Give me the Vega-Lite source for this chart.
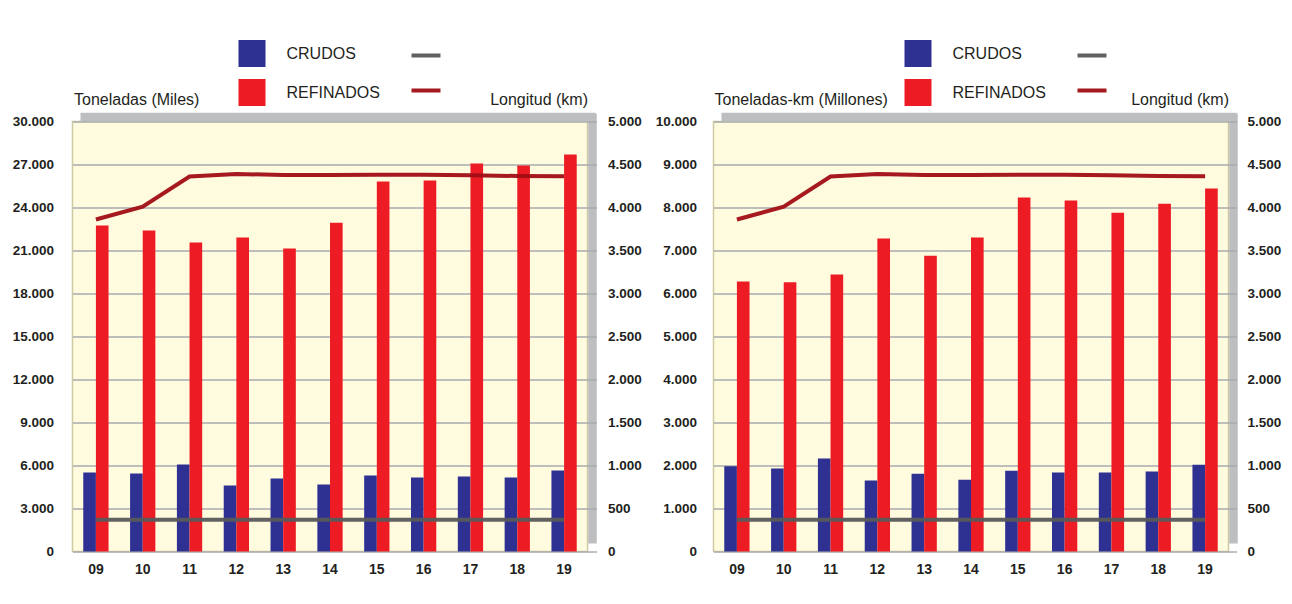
{
  "$schema": "https://vega.github.io/schema/vega-lite/v6.json",
  "background": "white",
  "padding": {"left": 10.5, "top": 37.5, "right": 5, "bottom": 5},
  "spacing": 11,
  "datasets": {
    "ton": [
      {"anio": "09", "serie": "CRUDOS", "valor": 5510}, {"anio": "09", "serie": "REFINADOS", "valor": 22740},
      {"anio": "10", "serie": "CRUDOS", "valor": 5440}, {"anio": "10", "serie": "REFINADOS", "valor": 22400},
      {"anio": "11", "serie": "CRUDOS", "valor": 6070}, {"anio": "11", "serie": "REFINADOS", "valor": 21560},
      {"anio": "12", "serie": "CRUDOS", "valor": 4600}, {"anio": "12", "serie": "REFINADOS", "valor": 21910},
      {"anio": "13", "serie": "CRUDOS", "valor": 5090}, {"anio": "13", "serie": "REFINADOS", "valor": 21140},
      {"anio": "14", "serie": "CRUDOS", "valor": 4670}, {"anio": "14", "serie": "REFINADOS", "valor": 22930},
      {"anio": "15", "serie": "CRUDOS", "valor": 5300}, {"anio": "15", "serie": "REFINADOS", "valor": 25810},
      {"anio": "16", "serie": "CRUDOS", "valor": 5160}, {"anio": "16", "serie": "REFINADOS", "valor": 25880},
      {"anio": "17", "serie": "CRUDOS", "valor": 5230}, {"anio": "17", "serie": "REFINADOS", "valor": 27070},
      {"anio": "18", "serie": "CRUDOS", "valor": 5160}, {"anio": "18", "serie": "REFINADOS", "valor": 26930},
      {"anio": "19", "serie": "CRUDOS", "valor": 5650}, {"anio": "19", "serie": "REFINADOS", "valor": 27700}
    ],
    "tkm": [
      {"anio": "09", "serie": "CRUDOS", "valor": 1980}, {"anio": "09", "serie": "REFINADOS", "valor": 6280},
      {"anio": "10", "serie": "CRUDOS", "valor": 1930}, {"anio": "10", "serie": "REFINADOS", "valor": 6260},
      {"anio": "11", "serie": "CRUDOS", "valor": 2160}, {"anio": "11", "serie": "REFINADOS", "valor": 6440},
      {"anio": "12", "serie": "CRUDOS", "valor": 1650}, {"anio": "12", "serie": "REFINADOS", "valor": 7280},
      {"anio": "13", "serie": "CRUDOS", "valor": 1810}, {"anio": "13", "serie": "REFINADOS", "valor": 6880},
      {"anio": "14", "serie": "CRUDOS", "valor": 1670}, {"anio": "14", "serie": "REFINADOS", "valor": 7300},
      {"anio": "15", "serie": "CRUDOS", "valor": 1880}, {"anio": "15", "serie": "REFINADOS", "valor": 8230},
      {"anio": "16", "serie": "CRUDOS", "valor": 1840}, {"anio": "16", "serie": "REFINADOS", "valor": 8160},
      {"anio": "17", "serie": "CRUDOS", "valor": 1840}, {"anio": "17", "serie": "REFINADOS", "valor": 7880},
      {"anio": "18", "serie": "CRUDOS", "valor": 1860}, {"anio": "18", "serie": "REFINADOS", "valor": 8090},
      {"anio": "19", "serie": "CRUDOS", "valor": 2020}, {"anio": "19", "serie": "REFINADOS", "valor": 8440}
    ],
    "lon": [
      {"anio": "09", "linea": "Longitud crudos", "km": 370}, {"anio": "09", "linea": "Longitud refinados", "km": 3860},
      {"anio": "10", "linea": "Longitud crudos", "km": 370}, {"anio": "10", "linea": "Longitud refinados", "km": 4010},
      {"anio": "11", "linea": "Longitud crudos", "km": 370}, {"anio": "11", "linea": "Longitud refinados", "km": 4360},
      {"anio": "12", "linea": "Longitud crudos", "km": 370}, {"anio": "12", "linea": "Longitud refinados", "km": 4390},
      {"anio": "13", "linea": "Longitud crudos", "km": 370}, {"anio": "13", "linea": "Longitud refinados", "km": 4378},
      {"anio": "14", "linea": "Longitud crudos", "km": 370}, {"anio": "14", "linea": "Longitud refinados", "km": 4378},
      {"anio": "15", "linea": "Longitud crudos", "km": 370}, {"anio": "15", "linea": "Longitud refinados", "km": 4380},
      {"anio": "16", "linea": "Longitud crudos", "km": 370}, {"anio": "16", "linea": "Longitud refinados", "km": 4382},
      {"anio": "17", "linea": "Longitud crudos", "km": 370}, {"anio": "17", "linea": "Longitud refinados", "km": 4376},
      {"anio": "18", "linea": "Longitud crudos", "km": 370}, {"anio": "18", "linea": "Longitud refinados", "km": 4366},
      {"anio": "19", "linea": "Longitud crudos", "km": 370}, {"anio": "19", "linea": "Longitud refinados", "km": 4364}
    ]
  },
  "hconcat": [
    {
      "width": 515,
      "height": 430,
      "layer": [
        {
          "data": {"name": "ton"},
          "mark": {"type": "bar"},
          "encoding": {
            "x": {"field": "anio", "type": "nominal",
              "scale": {"domain": ["09","10","11","12","13","14","15","16","17","18","19"], "paddingInner": 0.46, "paddingOuter": 0.23},
              "axis": {"orient": "bottom", "title": null, "labelAngle": 0, "domain": false, "ticks": false, "grid": false, "labelPadding": 11, "labelFont": "Liberation Sans", "labelFontWeight": "bold", "labelFontSize": 14, "labelColor": "#231f20"}},
            "xOffset": {"field": "serie", "type": "nominal", "scale": {"domain": ["CRUDOS", "REFINADOS"], "paddingInner": 0, "paddingOuter": 0}},
            "y": {"field": "valor", "type": "quantitative",
              "scale": {"domain": [0, 30000], "nice": false},
              "axis": {"orient": "left", "values": [0,3000,6000,9000,12000,15000,18000,21000,24000,27000,30000],
                "labelExpr": "replace(format(datum.value, ','), ',', '.')",
                "title": "Toneladas (Miles)", "titleAngle": 0, "titleAlign": "left", "titleBaseline": "alphabetic", "titleX": 1, "titleY": -17,
                "titleFont": "Liberation Sans", "titleFontSize": 16, "titleFontWeight": "normal", "titleColor": "#231f20",
                "domain": false, "ticks": false, "labelPadding": 19,
                "labelFont": "Liberation Sans", "labelFontWeight": "bold", "labelFontSize": 13.5, "labelColor": "#231f20",
                "grid": true, "gridColor": "#a9abae", "gridWidth": 1.5}},
            "color": {"field": "serie", "type": "nominal",
              "scale": {"domain": ["CRUDOS", "REFINADOS"], "range": ["#2e3192", "#ed1c24"]},
              "legend": {"orient": "none", "legendX": 166, "legendY": -81.5, "title": null, "direction": "vertical",
                "symbolType": "square", "symbolSize": 729, "symbolStrokeWidth": 0, "symbolOpacity": 1,
                "labelFont": "Liberation Sans", "labelFontSize": 16, "labelColor": "#231f20", "labelOffset": 21,
                "rowPadding": 12, "padding": 0}}
          }
        },
        {
          "data": {"name": "lon"},
          "mark": {"type": "line", "strokeWidth": 4, "opacity": 0.95, "strokeCap": "butt"},
          "encoding": {
            "x": {"field": "anio", "type": "nominal",
              "axis": {"orient": "top", "title": null, "labels": false, "ticks": false, "grid": false,
                "domain": true, "domainColor": "#bcbec0", "domainWidth": 8.5, "domainCap": "butt", "offset": 12.5, "translate": 8, "zindex": 0}},
            "y": {"field": "km", "type": "quantitative",
              "scale": {"domain": [0, 5000], "nice": false},
              "axis": {"orient": "right", "values": [0,500,1000,1500,2000,2500,3000,3500,4000,4500,5000],
                "labelExpr": "replace(format(datum.value, ','), ',', '.')",
                "title": "Longitud (km)", "titleAngle": 0, "titleAlign": "right", "titleBaseline": "alphabetic", "titleX": 0, "titleY": -17,
                "titleFont": "Liberation Sans", "titleFontSize": 16, "titleFontWeight": "normal", "titleColor": "#231f20",
                "domain": false, "ticks": true, "tickColor": "#a9abae", "tickWidth": 1.5, "tickSize": 9, "labelPadding": 11,
                "labelFont": "Liberation Sans", "labelFontWeight": "bold", "labelFontSize": 13.5, "labelColor": "#231f20",
                "grid": false, "zindex": 1}},
            "stroke": {"field": "linea", "type": "nominal",
              "scale": {"domain": ["Longitud crudos", "Longitud refinados"], "range": ["#58595b", "#a00d14"]},
              "legend": {"orient": "none", "legendX": 337, "legendY": -82.5, "title": null, "direction": "vertical",
                "symbolType": "stroke", "symbolSize": 841, "symbolStrokeWidth": 4, "labelExpr": "''",
                "rowPadding": 10, "padding": 0}}
          }
        },
        {
          "data": {"name": "lon"},
          "mark": {"type": "line", "opacity": 0},
          "encoding": {
            "x": {"field": "anio", "type": "nominal", "axis": null},
            "y": {"field": "km", "type": "quantitative",
              "scale": {"domain": [0, 5000], "nice": false},
              "axis": {"orient": "right", "title": null, "labels": false, "ticks": false, "grid": false,
                "domain": true, "domainColor": "#bcbec0", "domainWidth": 8.5, "domainCap": "butt", "offset": 13, "translate": -8, "zindex": 0}}
          }
        }
      ],
      "resolve": {"scale": {"y": "independent"}, "axis": {"x": "independent", "y": "independent"}}
    },
    {
      "width": 515,
      "height": 430,
      "layer": [
        {
          "data": {"name": "tkm"},
          "mark": {"type": "bar"},
          "encoding": {
            "x": {"field": "anio", "type": "nominal",
              "scale": {"domain": ["09","10","11","12","13","14","15","16","17","18","19"], "paddingInner": 0.46, "paddingOuter": 0.23},
              "axis": {"orient": "bottom", "title": null, "labelAngle": 0, "domain": false, "ticks": false, "grid": false, "labelPadding": 11, "labelFont": "Liberation Sans", "labelFontWeight": "bold", "labelFontSize": 14, "labelColor": "#231f20"}},
            "xOffset": {"field": "serie", "type": "nominal", "scale": {"domain": ["CRUDOS", "REFINADOS"], "paddingInner": 0, "paddingOuter": 0}},
            "y": {"field": "valor", "type": "quantitative",
              "scale": {"domain": [0, 10000], "nice": false},
              "axis": {"orient": "left", "values": [0,1000,2000,3000,4000,5000,6000,7000,8000,9000,10000],
                "labelExpr": "replace(format(datum.value, ','), ',', '.')",
                "title": "Toneladas-km (Millones)", "titleAngle": 0, "titleAlign": "left", "titleBaseline": "alphabetic", "titleX": 0.5, "titleY": -17,
                "titleFont": "Liberation Sans", "titleFontSize": 16, "titleFontWeight": "normal", "titleColor": "#231f20",
                "domain": false, "ticks": false, "labelPadding": 17,
                "labelFont": "Liberation Sans", "labelFontWeight": "bold", "labelFontSize": 13.5, "labelColor": "#231f20",
                "grid": true, "gridColor": "#a9abae", "gridWidth": 1.5}},
            "color": {"field": "serie", "type": "nominal",
              "scale": {"domain": ["CRUDOS", "REFINADOS"], "range": ["#2e3192", "#ed1c24"]},
              "legend": {"orient": "none", "legendX": 191, "legendY": -81.5, "title": null, "direction": "vertical",
                "symbolType": "square", "symbolSize": 729, "symbolStrokeWidth": 0, "symbolOpacity": 1,
                "labelFont": "Liberation Sans", "labelFontSize": 16, "labelColor": "#231f20", "labelOffset": 21,
                "rowPadding": 12, "padding": 0}}
          }
        },
        {
          "data": {"name": "lon"},
          "mark": {"type": "line", "strokeWidth": 4, "opacity": 0.95, "strokeCap": "butt"},
          "encoding": {
            "x": {"field": "anio", "type": "nominal",
              "axis": {"orient": "top", "title": null, "labels": false, "ticks": false, "grid": false,
                "domain": true, "domainColor": "#bcbec0", "domainWidth": 8.5, "domainCap": "butt", "offset": 12.5, "translate": 8, "zindex": 0}},
            "y": {"field": "km", "type": "quantitative",
              "scale": {"domain": [0, 5000], "nice": false},
              "axis": {"orient": "right", "values": [0,500,1000,1500,2000,2500,3000,3500,4000,4500,5000],
                "labelExpr": "replace(format(datum.value, ','), ',', '.')",
                "title": "Longitud (km)", "titleAngle": 0, "titleAlign": "right", "titleBaseline": "alphabetic", "titleX": 0, "titleY": -17,
                "titleFont": "Liberation Sans", "titleFontSize": 16, "titleFontWeight": "normal", "titleColor": "#231f20",
                "domain": false, "ticks": true, "tickColor": "#a9abae", "tickWidth": 1.5, "tickSize": 8, "labelPadding": 10.5,
                "labelFont": "Liberation Sans", "labelFontWeight": "bold", "labelFontSize": 13.5, "labelColor": "#231f20",
                "grid": false, "zindex": 1}},
            "stroke": {"field": "linea", "type": "nominal",
              "scale": {"domain": ["Longitud crudos", "Longitud refinados"], "range": ["#58595b", "#a00d14"]},
              "legend": {"orient": "none", "legendX": 362, "legendY": -82.5, "title": null, "direction": "vertical",
                "symbolType": "stroke", "symbolSize": 841, "symbolStrokeWidth": 4, "labelExpr": "''",
                "rowPadding": 10, "padding": 0}}
          }
        },
        {
          "data": {"name": "lon"},
          "mark": {"type": "line", "opacity": 0},
          "encoding": {
            "x": {"field": "anio", "type": "nominal", "axis": null},
            "y": {"field": "km", "type": "quantitative",
              "scale": {"domain": [0, 5000], "nice": false},
              "axis": {"orient": "right", "title": null, "labels": false, "ticks": false, "grid": false,
                "domain": true, "domainColor": "#bcbec0", "domainWidth": 8.5, "domainCap": "butt", "offset": 13, "translate": -8, "zindex": 0}}
          }
        }
      ],
      "resolve": {"scale": {"y": "independent"}, "axis": {"x": "independent", "y": "independent"}}
    }
  ],
  "resolve": {"scale": {"color": "independent", "stroke": "independent"}},
  "config": {
    "font": "Liberation Sans",
    "view": {"fill": "#fffbdf", "stroke": "#cdc9a5", "strokeWidth": 1.5}
  }
}
